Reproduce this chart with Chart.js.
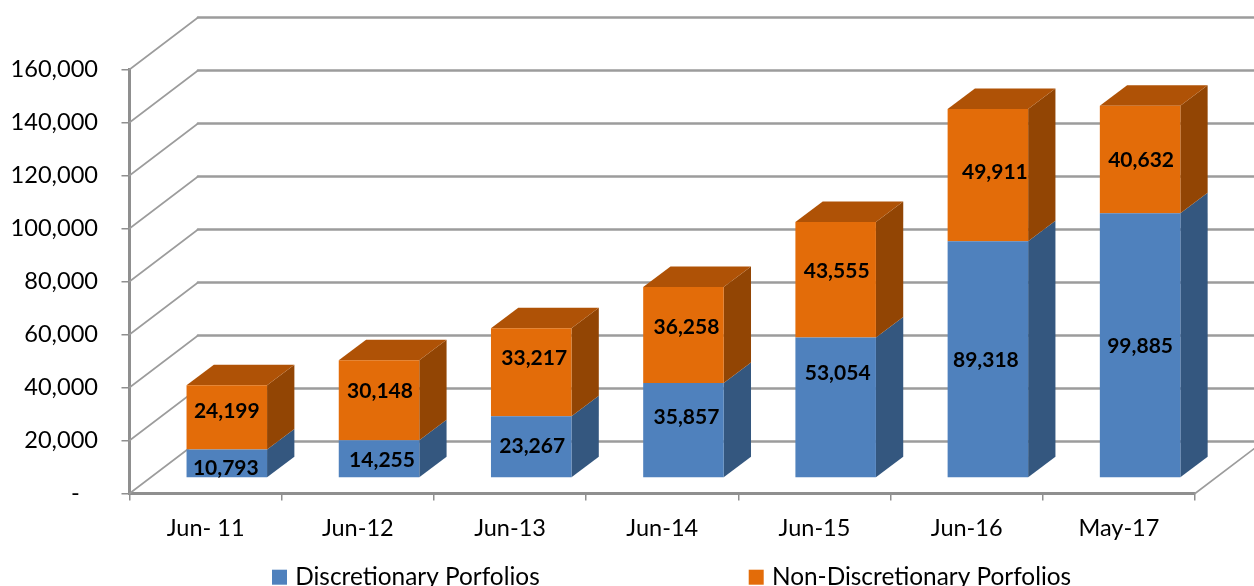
<!DOCTYPE html>
<html><head><meta charset="utf-8">
<style>html,body{margin:0;padding:0;background:#fff;overflow:hidden}canvas{display:block}</style>
<script src="https://cdn.jsdelivr.net/npm/chart.js@4"></script></head>
<body><canvas id="c" width="1254" height="586"></canvas>
<script>
const categories = ['Jun- 11','Jun-12','Jun-13','Jun-14','Jun-15','Jun-16','May-17'];
const discretionary = [10793,14255,23267,35857,53054,89318,99885];
const nonDiscretionary = [24199,30148,33217,36258,43555,49911,40632];
const yMax = 160000, yStep = 20000;

const FONT = 'Lato, "Open Sans", sans-serif';
const LINE = '#8f8f8f';
const wall = {dx:68.5, dy:-52};      // depth of the plot box
const bar3d = {ox:21.2, oy:-15.5, dx:27.3, dy:-20.5};
const sides = [{side:'#34577f', top:'#3d659a'},{side:'#924504', top:'#af5206'}];
// hand-placed label nudges seen in the reference [dx, dy]
const nudges = [
  [[-1,5],[3,1],[1,-1],[3,-13],[2,-34],[-2,1],[0,1]],
  [[0,-6],[1,-9],[3,-14],[3,-8],[1,-8],[7,-3],[1,1]]
];

const box3d = {
  id:'box3d',
  beforeLayout(chart){
    const l = chart.legend;
    if(l && !l._patched){
      const fit = l.fit;
      l.fit = function(){ fit.call(this); this.height = 0; };
      l._patched = true;
    }
  },
  afterLayout(chart){
    const l = chart.legend, pad = l.options.labels.padding;
    l.left = 276 - pad; l.right = 1500;
    l.top = 565 - pad; l.bottom = 600;
  },
  beforeDatasetsDraw(chart){
    const {ctx, scales:{x,y}, chartArea:a} = chart;
    ctx.save();
    ctx.lineCap = 'round';
    ctx.strokeStyle = '#9c9c9c';
    // walls and floor
    for(let v=0; v<=yMax; v+=yStep){
      const py = y.getPixelForValue(v);
      ctx.lineWidth = 1.6;
      ctx.beginPath(); ctx.moveTo(a.left,py); ctx.lineTo(a.left+wall.dx,py+wall.dy); ctx.stroke();
      ctx.lineWidth = 2.6;
      ctx.beginPath(); ctx.moveTo(a.left+wall.dx,py+wall.dy); ctx.lineTo(a.right+wall.dx,py+wall.dy); ctx.stroke();
    }
    ctx.lineWidth = 1.6;
    const b = y.getPixelForValue(0);
    ctx.beginPath(); ctx.moveTo(a.right,b); ctx.lineTo(a.right+wall.dx,b+wall.dy); ctx.stroke();
    ctx.lineCap = 'butt';
    // bar depth faces
    ctx.translate(bar3d.ox, bar3d.oy);
    const n = chart.data.labels.length;
    for(let j=0;j<n;j++){
      chart.data.datasets.forEach((ds,i)=>{
        const el = chart.getDatasetMeta(i).data[j];
        const r = el.x+el.width/2, l = el.x-el.width/2;
        ctx.fillStyle = sides[i].side;
        ctx.beginPath();
        ctx.moveTo(r,el.base); ctx.lineTo(r+bar3d.dx,el.base+bar3d.dy);
        ctx.lineTo(r+bar3d.dx,el.y+bar3d.dy); ctx.lineTo(r,el.y); ctx.closePath(); ctx.fill();
        if(i===chart.data.datasets.length-1){
          ctx.fillStyle = sides[i].top;
          ctx.beginPath();
          ctx.moveTo(l,el.y); ctx.lineTo(l+bar3d.dx,el.y+bar3d.dy);
          ctx.lineTo(r+bar3d.dx,el.y+bar3d.dy); ctx.lineTo(r,el.y); ctx.closePath(); ctx.fill();
        }
      });
    }
  },
  afterDatasetsDraw(chart){
    const {ctx} = chart;
    chart.data.datasets.forEach((ds,i)=>{
      chart.getDatasetMeta(i).data.forEach((el,j)=>{
        const n = nudges[i][j];
        ctx.font = 'bold 21px '+FONT;
        ctx.fillStyle = '#000';
        ctx.textAlign = 'center'; ctx.textBaseline = 'middle';
        ctx.fillText(ds.data[j].toLocaleString('en-US'), el.x+n[0], (el.y+el.base)/2+n[1]);
      });
    });
    ctx.restore();
  }
};

new Chart(document.getElementById('c'), {
  type:'bar',
  data:{labels:categories, datasets:[
    {label:'Discretionary Porfolios', data:discretionary, backgroundColor:'#4f81bd', borderWidth:0},
    {label:'Non-Discretionary Porfolios', data:nonDiscretionary, backgroundColor:'#e36c09', borderWidth:0}
  ]},
  options:{
    responsive:false, animation:false, devicePixelRatio:1,
    categoryPercentage:1, barPercentage:0.529,
    layout:{padding:{top:69.5,right:59,left:0,bottom:0}},
    events:[],
    plugins:{
      tooltip:{enabled:false},
      legend:{display:true, position:'bottom', align:'start',
        labels:{usePointStyle:true, pointStyle:'rect', boxWidth:7, boxHeight:15, padding:213, color:'#000', font:{family:FONT,size:24.4}}}
    },
    scales:{
      x:{stacked:true,
        afterFit(s){ s.height = 92.5; },
        grid:{drawOnChartArea:false, drawTicks:true, tickLength:7, color:LINE, lineWidth:1.5},
        border:{color:LINE, width:3},
        ticks:{color:'#000', padding:14, maxRotation:0, font:{family:FONT,size:23.5}}
      },
      y:{stacked:true, min:0, max:yMax,
        afterFit(s){ s.width = 129.5; },
        grid:{drawOnChartArea:false, drawTicks:true, tickLength:8, color:LINE, lineWidth:1.5},
        border:{color:LINE, width:3},
        ticks:{stepSize:yStep, color:'#000', padding:23.5, font:{family:FONT,size:23.6},
          callback:v => v===0 ? '-   ' : v.toLocaleString('en-US')}
      }
    }
  },
  plugins:[box3d]
});
</script></body></html>
